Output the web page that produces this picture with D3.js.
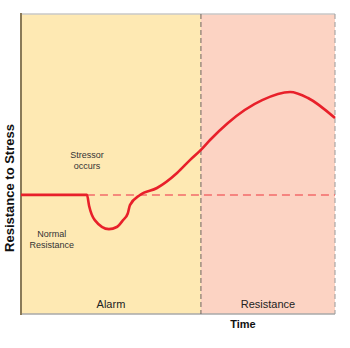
<!DOCTYPE html>
<html>
<head>
<meta charset="utf-8">
<script src="https://cdn.jsdelivr.net/npm/d3@7"></script>
<style>
  html, body { margin: 0; padding: 0; background: #fff; }
  svg { display: block; font-family: Arial, "Liberation Sans", sans-serif; }
</style>
</head>
<body>
<svg id="chart" width="350" height="348"></svg>
<script>
// Time runs 0..100, resistance 0..100
const phases = [
  { name: "Alarm", start: 0, end: 57.3, color: "#fee9b3" },
  { name: "Resistance", start: 57.3, end: 100, color: "#fcd3c3" }
];
const normalLevel = 39.7;
const stressorTime = 21;
const curveTime = [0, 21, 21.7, 23.5, 28, 30.5, 32.5, 34, 34.7, 37.9, 43.3, 49.7, 53.8, 57.3, 60.2, 65.9, 76.8, 85.7, 91.4, 100];
const curveResistance = [39.7, 39.7, 36, 31.3, 28.3, 29, 31.3, 33.5, 36.3, 39.7, 42, 47, 51.3, 54.7, 58, 63.7, 71.3, 74, 72, 65.3];
const annotations = [
  { lines: ["Stressor", "occurs"], t: 21, r: 52 },
  { lines: ["Normal", "Resistance"], t: 9.8, r: 25.7 }
];

const svg = d3.select("#chart");
const margin = { left: 21, top: 14, right: 15, bottom: 34 };
const W = 350, H = 348;
const x = d3.scaleLinear().domain([0, 100]).range([margin.left, W - margin.right]);
const y = d3.scaleLinear().domain([0, 100]).range([H - margin.bottom, margin.top]);

// phase backgrounds
svg.selectAll("rect.phase").data(phases).join("rect")
  .attr("class", "phase")
  .attr("x", d => x(d.start)).attr("y", y(100))
  .attr("width", d => x(d.end) - x(d.start))
  .attr("height", y(0) - y(100))
  .attr("fill", d => d.color);

// top and bottom frame
svg.append("line").attr("x1", x(0)).attr("x2", x(100)).attr("y1", y(100)).attr("y2", y(100))
  .attr("stroke", "#c9c9c9").attr("stroke-width", 1.5);
svg.append("line").attr("x1", x(0)).attr("x2", x(100)).attr("y1", y(0)).attr("y2", y(0))
  .attr("stroke", "#a8a8a8").attr("stroke-width", 1.5);

// phase boundaries
svg.selectAll("line.bound").data([phases[1].start, 100]).join("line")
  .attr("class", "bound")
  .attr("x1", d => x(d)).attr("x2", d => x(d))
  .attr("y1", y(100)).attr("y2", y(0))
  .attr("stroke", d => d === 100 ? "#9a9a9a" : "#6e6660")
  .attr("stroke-width", 1)
  .attr("stroke-dasharray", "5,3");

// left axis line
svg.append("line").attr("x1", x(0)).attr("x2", x(0)).attr("y1", y(100) - 1).attr("y2", y(0) + 1)
  .attr("stroke", "#8a7a58").attr("stroke-width", 2);

// normal resistance reference line
svg.append("line")
  .attr("x1", x(stressorTime)).attr("x2", x(100))
  .attr("y1", y(normalLevel)).attr("y2", y(normalLevel))
  .attr("stroke", "#f26b6b").attr("stroke-width", 1.5)
  .attr("stroke-dasharray", "8,5");

// resistance curve
const pts = curveTime.map((t, i) => [t, curveResistance[i]]);
const line = d3.line().x(d => x(d[0])).y(d => y(d[1])).curve(d3.curveMonotoneX);
svg.append("path").datum(pts)
  .attr("d", line)
  .attr("fill", "none")
  .attr("stroke", "#e8202a")
  .attr("stroke-width", 2.6)
  .attr("stroke-linejoin", "round");

// annotations
annotations.forEach(a => {
  const t = svg.append("text")
    .attr("x", x(a.t)).attr("y", y(a.r))
    .attr("text-anchor", "middle")
    .attr("font-size", 9).attr("fill", "#333");
  a.lines.forEach((l, i) => t.append("tspan").attr("x", x(a.t)).attr("dy", i === 0 ? 0 : 11).text(l));
});

// phase labels
svg.selectAll("text.phase").data(phases).join("text")
  .attr("class", "phase")
  .attr("x", d => (x(d.start) + x(d.end)) / 2)
  .attr("y", y(0) - 6)
  .attr("text-anchor", "middle")
  .attr("font-size", 11).attr("fill", "#222")
  .text(d => d.name);

// axis titles
svg.append("text")
  .attr("x", x(phases[1].start) + 42).attr("y", H - 20)
  .attr("text-anchor", "middle")
  .attr("font-size", 11).attr("font-weight", "bold").attr("fill", "#111")
  .text("Time");
svg.append("text")
  .attr("transform", `translate(14, ${y(42)}) rotate(-90)`)
  .attr("text-anchor", "middle")
  .attr("font-size", 13).attr("font-weight", "bold").attr("fill", "#111")
  .text("Resistance to Stress");
</script>
</body>
</html>
